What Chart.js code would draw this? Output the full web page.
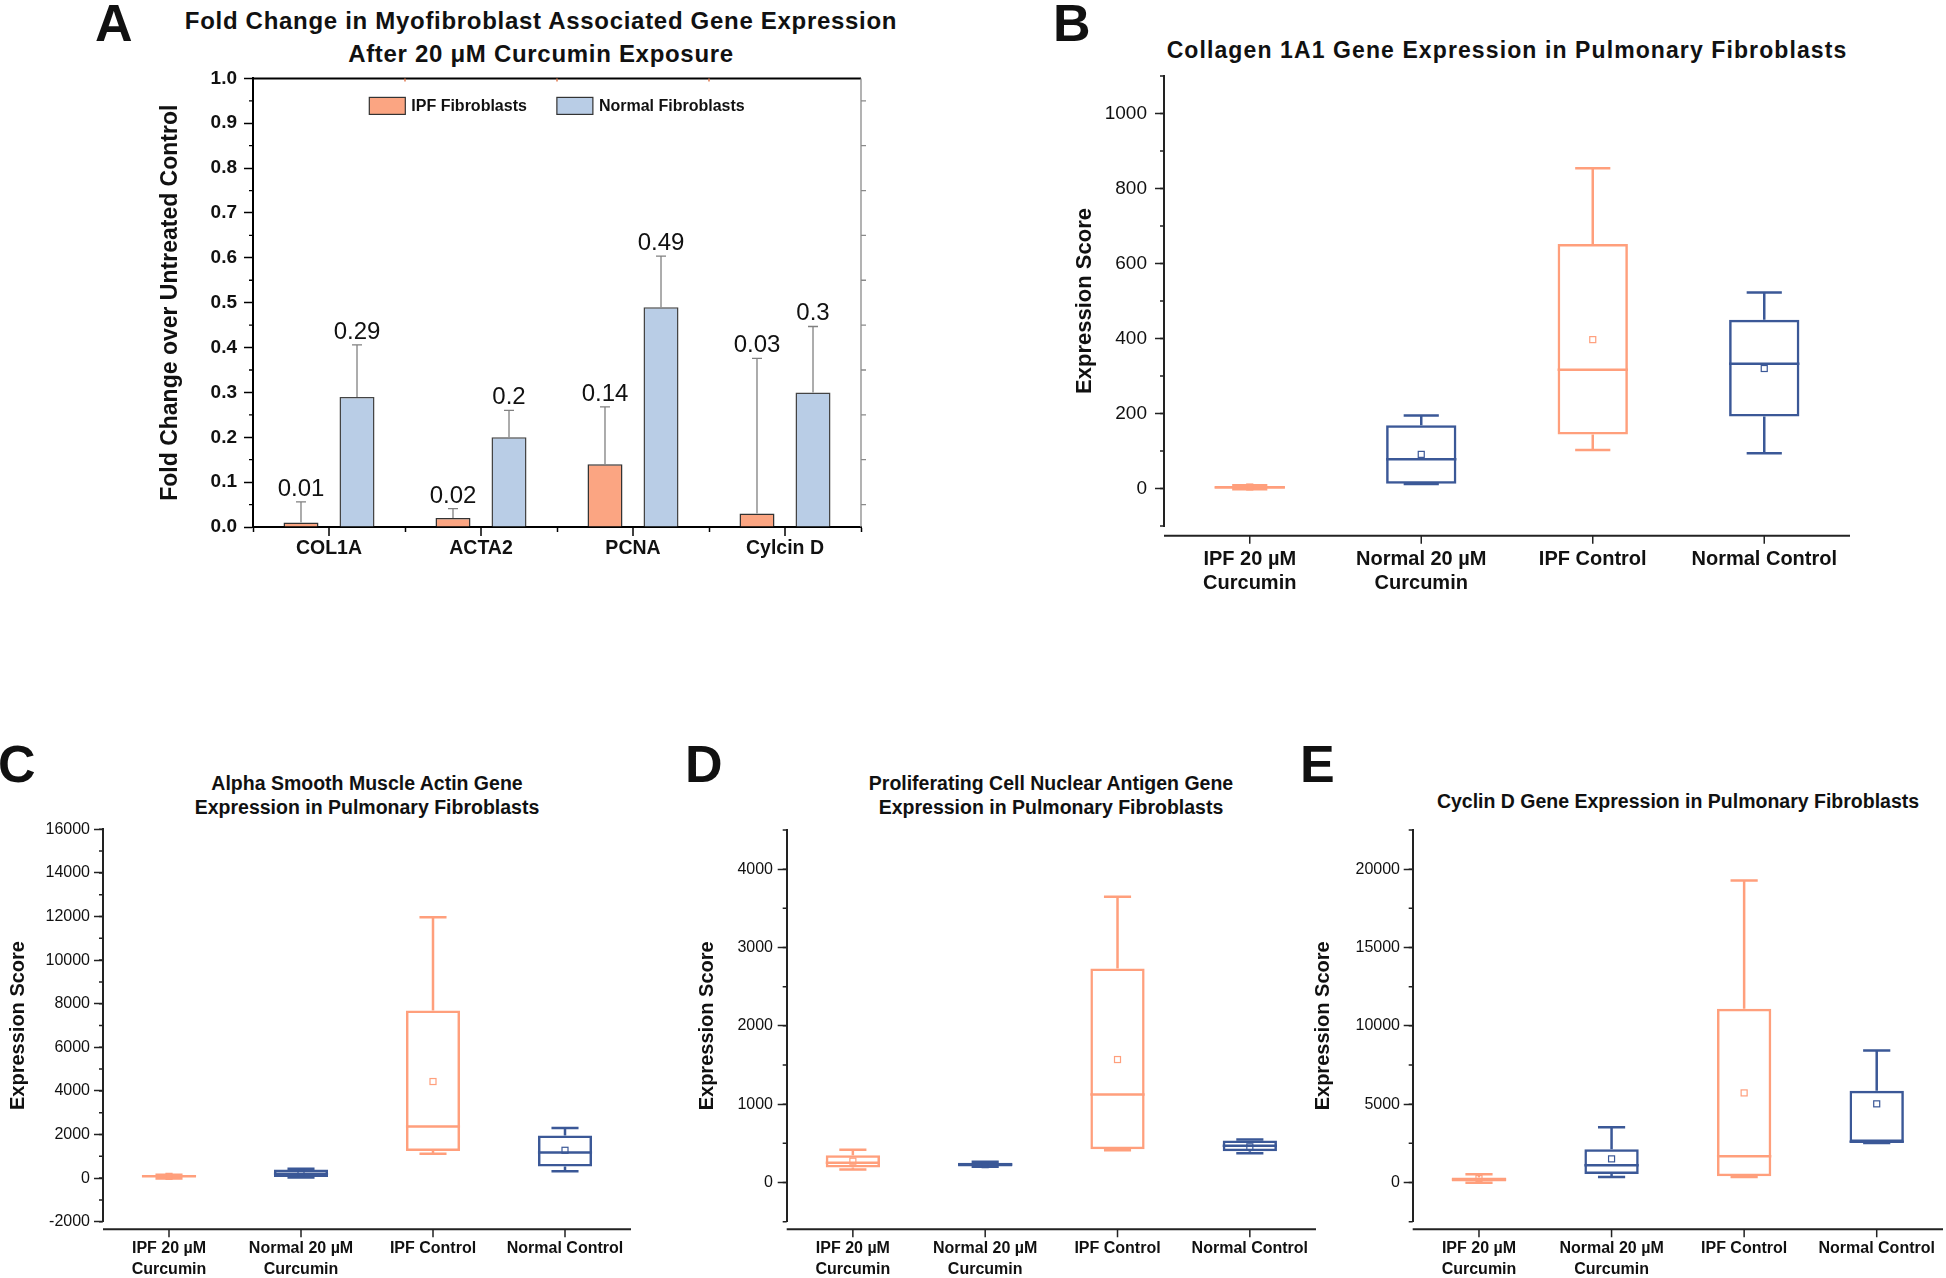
<!DOCTYPE html>
<html>
<head>
<meta charset="utf-8">
<script src="https://cdn.jsdelivr.net/npm/chart.js@4.4.0/dist/chart.umd.min.js"></script>
<style>
  body { margin: 0; width: 1946px; height: 1278px; position: relative; overflow: hidden; background: #fff;
         font-family: 'Liberation Sans', Arial, Helvetica, sans-serif; color: #111; }
  .box { position: absolute; }
  .letter { position: absolute; font-weight: bold; font-size: 52px; line-height: 1; }
  .ttl { position: absolute; font-weight: bold; text-align: center; white-space: nowrap; transform: translateX(-50%); }
</style>
</head>
<body>
<div class="letter" style="left:95px;top:-3px">A</div>
<div class="letter" style="left:1053px;top:-3px">B</div>
<div class="letter" style="left:-2px;top:738px">C</div>
<div class="letter" style="left:685px;top:738px">D</div>
<div class="letter" style="left:1300px;top:738px">E</div>

<div class="ttl" style="left:541px;top:4px;font-size:24px;line-height:33px;letter-spacing:0.7px">Fold Change in Myofibroblast Associated Gene Expression<br>After 20 μM Curcumin Exposure</div>
<div class="ttl" style="left:1507px;top:36px;font-size:23px;line-height:28px;letter-spacing:1.1px">Collagen 1A1 Gene Expression in Pulmonary Fibroblasts</div>
<div class="ttl" style="left:367px;top:771px;font-size:19.5px;line-height:24px">Alpha Smooth Muscle Actin Gene<br>Expression in Pulmonary Fibroblasts</div>
<div class="ttl" style="left:1051px;top:771px;font-size:19.5px;line-height:24px">Proliferating Cell Nuclear Antigen Gene<br>Expression in Pulmonary Fibroblasts</div>
<div class="ttl" style="left:1678px;top:789px;font-size:19.5px;line-height:24px">Cyclin D Gene Expression in Pulmonary Fibroblasts</div>

<div class="box" style="left:150px;top:60px;width:721px;height:507px"><canvas id="chartA"></canvas></div>
<div class="box" style="left:1060px;top:56px;width:810px;height:540px"><canvas id="chartB"></canvas></div>
<div class="box" style="left:0px;top:810px;width:651px;height:468px"><canvas id="chartC"></canvas></div>
<div class="box" style="left:690px;top:810px;width:646px;height:468px"><canvas id="chartD"></canvas></div>
<div class="box" style="left:1305px;top:810px;width:658px;height:468px"><canvas id="chartE"></canvas></div>

<script>
const FONT = "'Liberation Sans', Arial, Helvetica, sans-serif";
Chart.defaults.font.family = FONT;
Chart.defaults.color = '#111';
Chart.defaults.animation = false;
Chart.defaults.plugins.legend.display = false;
Chart.defaults.plugins.tooltip.enabled = false;

// ---- panel A: fold change ----
const foldGenes = ['COL1A', 'ACTA2', 'PCNA', 'Cylcin D'];
const ipfFold = [0.01, 0.02, 0.14, 0.03];
const ipfFoldErr = [0.046, 0.021, 0.128, 0.346];
const normalFold = [0.29, 0.2, 0.49, 0.3];
const normalFoldErr = [0.116, 0.06, 0.114, 0.147];
const foldTicks = [0, 0.1, 0.2, 0.3, 0.4, 0.5, 0.6, 0.7, 0.8, 0.9, 1.0];

// ---- box plots, shared groups ----
const groupLabels = [['IPF 20 µM', 'Curcumin'], ['Normal 20 µM', 'Curcumin'], 'IPF Control', 'Normal Control'];

// B: Collagen 1A1
const col1Min = [-2, 12, 103, 94];
const col1Q1 = [0, 13, 144, 192];
const col1Med = [3, 78, 317, 333];
const col1Q3 = [7, 169, 652, 450];
const col1Max = [9, 195, 854, 523];
const col1Mean = [4, 91, 397, 320];
const col1Ticks = [0, 200, 400, 600, 800, 1000];

// C: alpha smooth muscle actin
const actaMin = [-20, 30, 1120, 315];
const actaQ1 = [60, 50, 1240, 535];
const actaMed = [90, 200, 2370, 1180];
const actaQ3 = [130, 400, 7690, 1953];
const actaMax = [150, 430, 11960, 2300];
const actaMean = [80, 280, 4430, 1276];
const actaTicks = [-2000, 0, 2000, 4000, 6000, 8000, 10000, 12000, 14000, 16000];

// D: PCNA
const pcnaMin = [166, 200, 413, 373];
const pcnaQ1 = [191, 205, 426, 399];
const pcnaMed = [251, 230, 1123, 469];
const pcnaQ3 = [349, 254, 2732, 535];
const pcnaMax = [417, 264, 3647, 548];
const pcnaMean = [272, 228, 1570, 456];
const pcnaTicks = [0, 1000, 2000, 3000, 4000];

// E: Cyclin D
const ccndMin = [-20, 360, 360, 2520];
const ccndQ1 = [60, 550, 400, 2590];
const ccndMed = [190, 1110, 1680, 2610];
const ccndQ3 = [320, 2130, 11090, 5855];
const ccndMax = [530, 3530, 19280, 8421];
const ccndMean = [260, 1510, 5720, 5022];
const ccndTicks = [0, 5000, 10000, 15000, 20000];

const SALMON = '#ff9f7c';
const BLUE = '#3b5897';
const groupColors = [SALMON, BLUE, SALMON, BLUE];

// minor ticks on the left axis (outside), between the major ones
function drawMinorY(ctx, y, left, step, len) {
    ctx.beginPath();
    for (let v = y.min; v <= y.max + 1e-9; v += step) {
        const p = y.getPixelForValue(Math.round(v / step) * step);
        ctx.moveTo(left - len, p);
        ctx.lineTo(left, p);
    }
    ctx.stroke();
}

// ==========================================
// PANEL A
// ==========================================
const foldPlugin = {
    id: 'foldDecor',
    afterDatasetsDraw(chart) {
        const { ctx, chartArea: a, scales: { x, y } } = chart;
        const errs = [ipfFoldErr, normalFoldErr];
        ctx.save();
        // error bars + value labels
        chart.data.datasets.forEach((ds, di) => {
            chart.getDatasetMeta(di).data.forEach((bar, i) => {
                const top = y.getPixelForValue(ds.data[i] + errs[di][i]);
                ctx.strokeStyle = '#808080';
                ctx.lineWidth = 1.3;
                ctx.beginPath();
                ctx.moveTo(bar.x, bar.y);
                ctx.lineTo(bar.x, top);
                ctx.moveTo(bar.x - 5, top);
                ctx.lineTo(bar.x + 5, top);
                ctx.stroke();
                ctx.fillStyle = '#111';
                ctx.font = '24px ' + FONT;
                ctx.textAlign = 'center';
                ctx.textBaseline = 'alphabetic';
                ctx.fillText(String(ds.data[i]), bar.x, top - 6);
            });
        });
        // frame: top line, right line
        ctx.strokeStyle = '#000';
        ctx.lineWidth = 2;
        ctx.beginPath();
        ctx.moveTo(a.left, a.top); ctx.lineTo(a.right, a.top);
        ctx.stroke();
        ctx.strokeStyle = '#8a8a8a';
        ctx.lineWidth = 1.3;
        ctx.beginPath();
        ctx.moveTo(a.right, a.top); ctx.lineTo(a.right, a.bottom);
        for (let k = 0; k < 10; k++) {
            const p = y.getPixelForValue(0.05 + k * 0.1);
            ctx.moveTo(a.right, p); ctx.lineTo(a.right + 5, p);
        }
        ctx.stroke();
        // left minor ticks
        ctx.strokeStyle = '#000';
        ctx.lineWidth = 1.3;
        ctx.beginPath();
        for (let k = 0; k < 10; k++) {
            const p = y.getPixelForValue(0.05 + k * 0.1);
            ctx.moveTo(a.left - 4, p); ctx.lineTo(a.left, p);
        }
        ctx.stroke();
        // bottom center ticks + tiny top ticks at group borders
        ctx.lineWidth = 1.5;
        ctx.beginPath();
        foldGenes.forEach((g, i) => {
            const px = x.getPixelForValue(i);
            ctx.moveTo(px, a.bottom); ctx.lineTo(px, a.bottom + 9);
        });
        ctx.stroke();
        ctx.strokeStyle = '#e07a50';
        ctx.beginPath();
        for (let i = 0; i < foldGenes.length - 1; i++) {
            const px = (x.getPixelForValue(i) + x.getPixelForValue(i + 1)) / 2;
            ctx.moveTo(px, a.top); ctx.lineTo(px, a.top + 3);
        }
        ctx.stroke();
        // legend inside the plot
        ctx.font = 'bold 16px ' + FONT;
        const sw = 36, sh = 17, gap = 6, between = 30;
        const items = chart.data.datasets.map(ds => ({ text: ds.label, color: ds.backgroundColor }));
        const widths = items.map(it => sw + gap + ctx.measureText(it.text).width);
        const total = widths.reduce((s, v) => s + v, 0) + between;
        let lx = (a.left + a.right) / 2 - total / 2;
        const ly = a.top + 19;
        items.forEach((it, i) => {
            ctx.fillStyle = it.color;
            ctx.fillRect(lx, ly, sw, sh);
            ctx.strokeStyle = '#333';
            ctx.lineWidth = 1.2;
            ctx.strokeRect(lx, ly, sw, sh);
            ctx.fillStyle = '#111';
            ctx.textAlign = 'left';
            ctx.textBaseline = 'middle';
            ctx.fillText(it.text, lx + sw + gap, ly + sh / 2 + 1);
            lx += widths[i] + between;
        });
        ctx.restore();
    }
};

new Chart(document.getElementById('chartA'), {
    type: 'bar',
    data: {
        labels: foldGenes,
        datasets: [
            { label: 'IPF Fibroblasts', data: ipfFold, backgroundColor: '#fba582', borderColor: '#333', borderWidth: 1.5, barPercentage: 0.625, categoryPercentage: 0.737 },
            { label: 'Normal Fibroblasts', data: normalFold, backgroundColor: '#b9cde6', borderColor: '#444', borderWidth: 1.5, barPercentage: 0.625, categoryPercentage: 0.737 }
        ]
    },
    options: {
        responsive: true, maintainAspectRatio: false,
        layout: { autoPadding: false, padding: { top: 16, right: 10, bottom: 0, left: 0 } },
        scales: {
            x: {
                afterFit: s => { s.height = 40; },
                border: { color: '#000', width: 2 },
                grid: { drawOnChartArea: false, offset: true, tickLength: 5, tickColor: '#000', tickWidth: 1.5 },
                ticks: { font: { size: 19.5, weight: 'bold' }, padding: 5, color: '#111' }
            },
            y: {
                min: 0, max: 1,
                afterBuildTicks: s => { s.ticks = foldTicks.map(v => ({ value: v })); },
                afterFit: s => { s.width = 103; },
                border: { color: '#000', width: 2 },
                grid: { drawOnChartArea: false, tickLength: 9, tickColor: '#000', tickWidth: 1.5 },
                ticks: { font: { size: 19, weight: 'bold' }, padding: 7, color: '#111', callback: v => Number(v).toFixed(1) },
                title: { display: true, text: 'Fold Change over Untreated Control', font: { size: 23, weight: 'bold' }, padding: { top: 7, bottom: 0 }, color: '#111' }
            }
        }
    },
    plugins: [foldPlugin]
});

// ==========================================
// BOX PLOTS (B - E)
// ==========================================
function boxPlugin(st, minorStep, xGap) {
    return {
        id: 'boxDecor',
        afterDatasetsDraw(chart) {
            const { ctx, chartArea: a, scales: { x, y } } = chart;
            const py = v => y.getPixelForValue(v);
            ctx.save();
            chart.getDatasetMeta(0).data.forEach((bar, i) => {
                const w = bar.width;
                ctx.strokeStyle = groupColors[i];
                ctx.lineWidth = 2.5;
                ctx.beginPath();
                ctx.moveTo(bar.x, py(st.q3[i])); ctx.lineTo(bar.x, py(st.max[i]));
                ctx.moveTo(bar.x, py(st.q1[i])); ctx.lineTo(bar.x, py(st.min[i]));
                ctx.moveTo(bar.x - w / 4, py(st.max[i])); ctx.lineTo(bar.x + w / 4, py(st.max[i]));
                ctx.moveTo(bar.x - w / 4, py(st.min[i])); ctx.lineTo(bar.x + w / 4, py(st.min[i]));
                ctx.moveTo(bar.x - w / 2, py(st.med[i])); ctx.lineTo(bar.x + w / 2, py(st.med[i]));
                ctx.stroke();
                ctx.lineWidth = 1.2;
                ctx.strokeRect(bar.x - 3, py(st.mean[i]) - 3, 6, 6);
            });
            // minor ticks
            ctx.strokeStyle = '#222';
            ctx.lineWidth = 1.5;
            drawMinorY(ctx, y, a.left, minorStep, 4);
            // detached x axis line with ticks at each group
            const xb = a.bottom + xGap;
            ctx.lineWidth = 2;
            ctx.beginPath();
            ctx.moveTo(a.left, xb); ctx.lineTo(a.right, xb);
            ctx.stroke();
            ctx.lineWidth = 1.5;
            ctx.beginPath();
            groupLabels.forEach((g, i) => {
                const px = x.getPixelForValue(i);
                ctx.moveTo(px, xb); ctx.lineTo(px, xb + 8);
            });
            ctx.stroke();
            ctx.restore();
        }
    };
}

function makeBoxChart(id, st, cfg) {
    new Chart(document.getElementById(id), {
        type: 'bar',
        data: {
            labels: groupLabels,
            datasets: [{
                data: st.q1.map((v, i) => [v, st.q3[i]]),
                backgroundColor: 'rgba(255,255,255,0)',
                borderColor: groupColors,
                borderWidth: 2.5,
                borderSkipped: false,
                barPercentage: 0.41,
                categoryPercentage: 1
            }]
        },
        options: {
            responsive: true, maintainAspectRatio: false,
            layout: { autoPadding: false, padding: { top: cfg.padTop, right: 20, bottom: 0, left: 0 } },
            scales: {
                x: {
                    afterFit: s => { s.height = cfg.xH; },
                    grid: { display: false },
                    border: { display: false },
                    ticks: { font: { size: cfg.catSize, weight: 'bold', lineHeight: cfg.catLine }, padding: cfg.catPad, color: '#111', maxRotation: 0, autoSkip: false }
                },
                y: {
                    min: cfg.min, max: cfg.max,
                    afterBuildTicks: s => { s.ticks = cfg.ticks.map(v => ({ value: v })); },
                    afterFit: s => { s.width = cfg.yW; },
                    border: { color: '#222', width: 2 },
                    grid: { drawOnChartArea: false, tickLength: 9, tickColor: '#222', tickWidth: 1.5 },
                    ticks: { font: { size: cfg.tickSize }, padding: cfg.tickPad, color: '#111', callback: v => String(v) },
                    title: { display: true, text: 'Expression Score', font: { size: cfg.titleSize, weight: 'bold' }, padding: { top: cfg.titlePad, bottom: 0 }, color: '#111' }
                }
            }
        },
        plugins: [boxPlugin(st, cfg.minor, cfg.xGap)]
    });
}

makeBoxChart('chartB',
    { min: col1Min, q1: col1Q1, med: col1Med, q3: col1Q3, max: col1Max, mean: col1Mean },
    { min: -100, max: 1100, ticks: col1Ticks, minor: 100, padTop: 20, xH: 70, yW: 104, xGap: 9.7,
      tickSize: 19, tickPad: 8, titleSize: 22, titlePad: 11.8, catSize: 20, catLine: 1.2, catPad: 13 });

makeBoxChart('chartC',
    { min: actaMin, q1: actaQ1, med: actaMed, q3: actaQ3, max: actaMax, mean: actaMean },
    { min: -2000, max: 16000, ticks: actaTicks, minor: 1000, padTop: 19.3, xH: 56.3, yW: 103, xGap: 7.6,
      tickSize: 16, tickPad: 4, titleSize: 20, titlePad: 6, catSize: 16, catLine: 1.3125, catPad: 8.8 });

makeBoxChart('chartD',
    { min: pcnaMin, q1: pcnaQ1, med: pcnaMed, q3: pcnaQ3, max: pcnaMax, mean: pcnaMean },
    { min: -500, max: 4500, ticks: pcnaTicks, minor: 500, padTop: 20, xH: 56.3, yW: 96.7, xGap: 7.6,
      tickSize: 16, tickPad: 4.7, titleSize: 20, titlePad: 5, catSize: 16, catLine: 1.3125, catPad: 8.8 });

makeBoxChart('chartE',
    { min: ccndMin, q1: ccndQ1, med: ccndMed, q3: ccndQ3, max: ccndMax, mean: ccndMean },
    { min: -2500, max: 22500, ticks: ccndTicks, minor: 2500, padTop: 20, xH: 56.3, yW: 107.7, xGap: 7.6,
      tickSize: 16, tickPad: 3.7, titleSize: 20, titlePad: 6, catSize: 16, catLine: 1.3125, catPad: 8.8 });
</script>
</body>
</html>
